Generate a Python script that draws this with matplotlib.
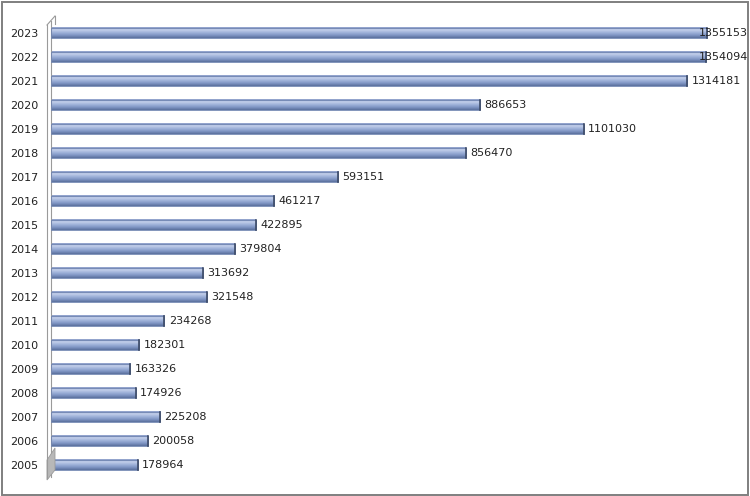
import numpy as np
import matplotlib
matplotlib.use("Agg")
from matplotlib import pyplot as plt
from matplotlib.colors import LinearSegmentedColormap
from matplotlib.patches import Rectangle, Polygon

years = [str(y) for y in range(2005, 2024)]
values = [178964, 200058, 225208, 174926, 163326, 182301, 234268, 321548, 313692,
          379804, 422895, 461217, 593151, 856470, 1101030, 886653, 1314181, 1354094, 1355153]

# cylinder-ish shading, bottom -> top
cyl = LinearSegmentedColormap.from_list(
    "cyl", ["#5A6F9C", "#7F95C3", "#9FB2DA", "#C3CFEA", "#8A9DC8"])

fig = plt.figure(figsize=(7.5, 4.96), dpi=100)
ax = fig.add_axes([51 / 750, 19 / 496, 680 / 750, 456 / 496])

xmax = 1404800
label_limit = 1338000  # labels that would run off the edge get pushed inward

h = 0.44
grad = np.linspace(0, 1, 64).reshape(-1, 1)
for i, v in enumerate(values):
    ax.imshow(grad, cmap=cyl, origin="lower", aspect="auto",
              extent=(0, v, i - h / 2, i + h / 2), zorder=2)
    ax.add_patch(Rectangle((0, i - h / 2), v, h, fill=False,
                           edgecolor="#6E83B0", lw=0.6, zorder=3))
    ax.plot([v, v], [i - h / 2, i + h / 2], color="#3C4A66", lw=1.2, zorder=4)
    ax.text(min(v + 9000, label_limit), i, str(v), va="center", ha="left",
            fontsize=8, color="#222222", zorder=5)

ax.set_xlim(0, xmax)
ax.set_ylim(-0.5, len(years) - 0.5)
ax.set_yticks(range(len(years)))
ax.set_yticklabels(years, fontsize=8, color="#222222")
ax.tick_params(axis="y", length=0, pad=9)
ax.set_xticks([])
for s in ["top", "right", "bottom"]:
    ax.spines[s].set_visible(False)
ax.spines["left"].set_color("#9A9A9A")
ax.spines["left"].set_linewidth(0.8)

# 3D wall hints
fx = lambda px: px / 750
fy = lambda py: 1 - py / 496
fig.add_artist(plt.Line2D([fx(47), fx(47)], [fy(478), fy(25)], color="#9A9A9A", lw=0.8))
fig.add_artist(plt.Line2D([fx(47), fx(55)], [fy(25), fy(16)], color="#9A9A9A", lw=0.8))
fig.add_artist(plt.Line2D([fx(55), fx(55)], [fy(16), fy(24)], color="#9A9A9A", lw=0.8))
fig.add_artist(Polygon([(fx(47), fy(480)), (fx(55), fy(470)), (fx(55), fy(448)),
                        (fx(47), fy(460))], closed=True, transform=fig.transFigure,
                       facecolor="#B8B8B8", edgecolor="#9A9A9A", lw=0.6))

# outer frame
fig.add_artist(Rectangle((0.002, 0.003), 0.995, 0.993, transform=fig.transFigure,
                         fill=False, edgecolor="#7F7F7F", lw=1.4))

fig.savefig("out.png", dpi=100)
